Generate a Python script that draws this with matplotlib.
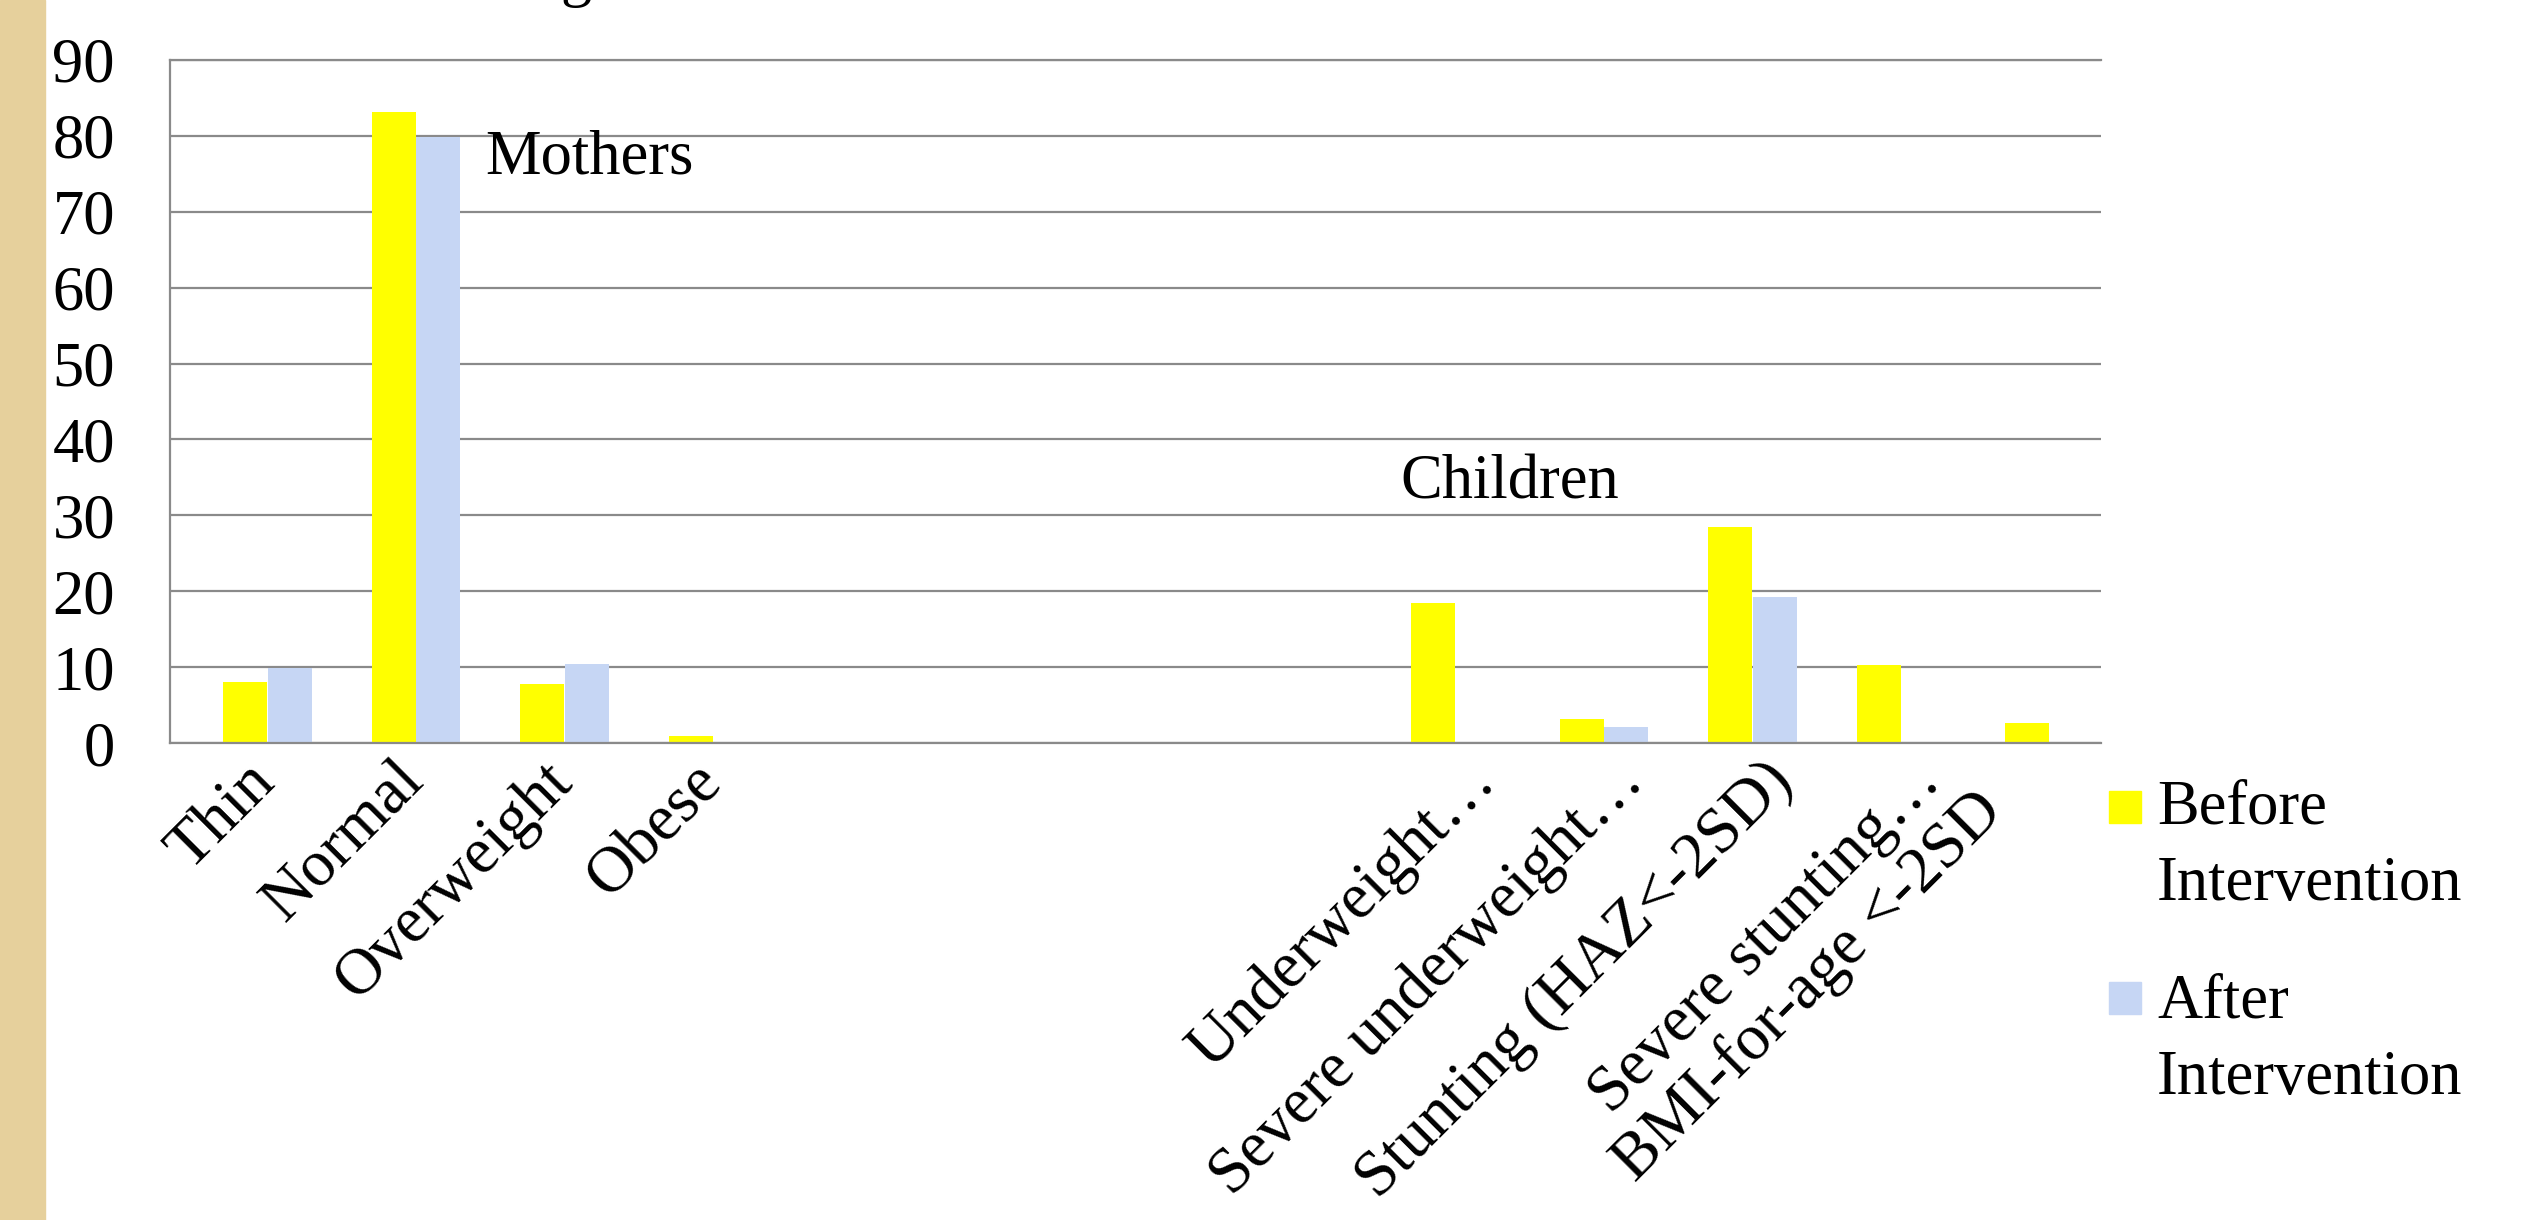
import numpy as np
import matplotlib.pyplot as plt
import matplotlib.transforms as mtrans
from matplotlib.patches import Rectangle

plt.rcParams['font.family'] = ['Liberation Serif', 'DejaVu Serif']

categories = ["Thin", "Normal", "Overweight", "Obese", "", "", "", "",
              "Underweight\u2026", "Severe underweight\u2026", "Stunting (HAZ<-2SD)",
              "Severe stunting\u2026", "BMI-for-age <-2SD"]
before = [8.0, 83.1, 7.8, 0.9, 0, 0, 0, 0, 18.4, 3.2, 28.4, 10.3, 2.7]
after = [9.9, 79.8, 10.4, 0, 0, 0, 0, 0, 0, 2.1, 19.3, 0, 0]
series = ["Before\nIntervention", "After\nIntervention"]
colors = ["#ffff00", "#c6d6f4"]
groups = ["Mothers", "Children"]
yticks = list(range(0, 91, 10))

FS = 45
GRID = "#8a8a8a"

fig = plt.figure(figsize=(25.21, 12.20), dpi=100)
W, H = 2521, 1220

# parchment strip on the left edge
fig.patches.append(Rectangle((0, 0), 45 / W, 1, transform=fig.transFigure,
                             color="#e6d09c", zorder=0))

ax = fig.add_axes([170 / W, 1 - 743 / H, (2101 - 170) / W, (743 - 60) / H])
x = np.arange(len(categories))
w = 0.296
ax.bar(x - 0.15, before, w, color=colors[0], linewidth=0, zorder=2)
ax.bar(x + 0.15, after, w, color=colors[1], linewidth=0, zorder=2)

ax.set_xlim(-0.657, 12.347)
ax.set_ylim(0, 90)
ax.set_yticks(yticks)
ax.yaxis.grid(True, color=GRID, linewidth=1.6)
ax.set_axisbelow(True)
for s in ["left", "bottom", "top"]:
    ax.spines[s].set_color(GRID)
    ax.spines[s].set_linewidth(1.6)
ax.spines["right"].set_visible(False)

ax.tick_params(axis="y", length=0, labelsize=FS, pad=39.6)
ax.tick_params(axis="x", length=0, labelsize=47, pad=29)
ax.set_xticks(x, categories, rotation=45, ha="right", va="baseline",
              rotation_mode="anchor")
# nudges in pixels (x, y) for the rotated labels
for i, lab in enumerate(ax.get_xticklabels()):
    dx, dy = (10, 0) if i < 4 else (42, 0)
    if i == 12:
        dx, dy = -45, -30
    off = mtrans.ScaledTranslation(dx / 100, dy / 100, fig.dpi_scale_trans)
    lab.set_transform(lab.get_transform() + off)

ax.text(1.465, 75.1, groups[0], fontsize=FS, ha="left", va="baseline")
ax.text(7.63, 32.2, groups[1], fontsize=FS, ha="left", va="baseline")

# legend drawn by hand
sq = [(2109, 791), (2109, 982)]
tops = [780, 974]
for (px, py), ty, lab, col in zip(sq, tops, series, colors):
    fig.patches.append(Rectangle((px / W, 1 - (py + 32) / H), 32 / W, 32 / H,
                                 transform=fig.transFigure, color=col))
    fig.text(2157 / W, 1 - ty / H, lab, fontsize=FS, ha="left",
             va="top", linespacing=1.42)

# bottom of the cut-off title
fig.text(576 / W, 1 + 6 / H, "g", fontsize=FS, ha="center", va="baseline")

fig.savefig("out.png", dpi=100)
